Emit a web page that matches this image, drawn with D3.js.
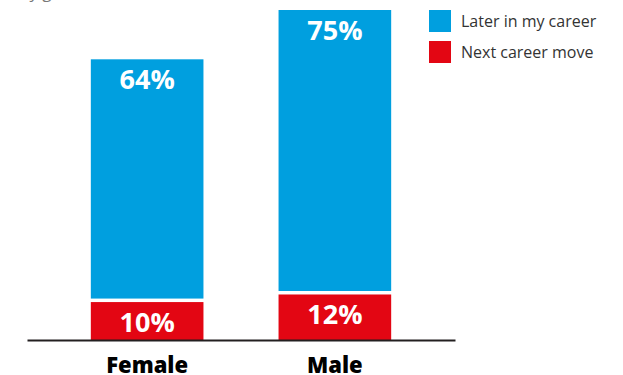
<!DOCTYPE html>
<html>
<head>
<meta charset="utf-8">
<script src="https://cdn.jsdelivr.net/npm/d3@7"></script>
<style>
  html, body { margin: 0; padding: 0; background: #fff; }
  svg { display: block; }
</style>
</head>
<body>
<svg id="chart" width="623" height="375"></svg>
<script>
// Chart data
const categories = ["Female", "Male"];
const nextCareerMove = [10, 12];
const laterInCareer = [64, 75];
const seriesNames = ["Next career move", "Later in my career"];
const seriesColors = ["#e30613", "#009fdf"];
const legendOrder = ["Later in my career", "Next career move"];
const titleText = "by gender";

const svg = d3.select("#chart");
const baseY = 340, topY = 10;

const rows = categories.map((c, i) => ({
  category: c,
  "Next career move": nextCareerMove[i],
  "Later in my career": laterInCareer[i]
}));

const stacked = d3.stack().keys(seriesNames)(rows);
const totals = rows.map(r => r["Next career move"] + r["Later in my career"]);

const x = d3.scaleBand()
  .domain(categories)
  .range([27, 455])
  .paddingInner(0.4)
  .paddingOuter(0.34);

const y = d3.scaleLinear()
  .domain([0, d3.max(totals)])
  .range([baseY, topY]);

const color = d3.scaleOrdinal().domain(seriesNames).range(seriesColors);

// Title (runs above the visible area, only its descenders show)
svg.append("text")
  .attr("x", 19)
  .attr("y", -2)
  .attr("font-family", "Open Sans")
  .attr("font-size", 17)
  .attr("fill", "#777")
  .text(titleText);

const gap = 3.5;

// Stacked bars
const layers = svg.append("g")
  .selectAll("g")
  .data(stacked)
  .join("g")
  .attr("fill", d => color(d.key));

const segs = d => d.map(p => ({ key: d.key, y0: p[0], y1: p[1], cat: p.data.category }));

layers.selectAll("rect")
  .data(segs)
  .join("rect")
  .attr("x", d => x(d.cat))
  .attr("width", x.bandwidth())
  .attr("y", d => y(d.y1))
  .attr("height", d => (y(d.y0) - y(d.y1)) - (d.y0 > 0 ? gap : 0));

// Value labels inside each segment
layers.selectAll("text")
  .data(segs)
  .join("text")
  .attr("x", d => x(d.cat) + x.bandwidth() / 2)
  .attr("y", d => y(d.y1) + 29.5)
  .attr("text-anchor", "middle")
  .attr("font-family", "Open Sans")
  .attr("font-weight", 700)
  .attr("font-size", 27)
  .attr("fill", "#fff")
  .text(d => (d.y1 - d.y0) + "%");

// Category axis
const axis = svg.append("g")
  .attr("transform", `translate(0,${baseY})`)
  .call(d3.axisBottom(x).tickSize(0).tickSizeOuter(0));

axis.select(".domain")
  .attr("stroke", "#231f20")
  .attr("stroke-width", 2);

axis.selectAll(".tick text")
  .attr("y", 33)
  .attr("dy", null)
  .attr("font-family", "Open Sans")
  .attr("font-weight", 800)
  .attr("font-size", 22)
  .attr("fill", "#000");

// Legend
const legend = svg.append("g")
  .selectAll("g")
  .data(legendOrder)
  .join("g")
  .attr("transform", (d, i) => `translate(429,${10 + i * 31})`);

legend.append("rect")
  .attr("width", 22)
  .attr("height", 22)
  .attr("fill", d => color(d));

legend.append("text")
  .attr("x", 32)
  .attr("y", 17)
  .attr("font-family", "Open Sans")
  .attr("font-size", 16)
  .attr("fill", "#333")
  .text(d => d);
</script>
</body>
</html>
